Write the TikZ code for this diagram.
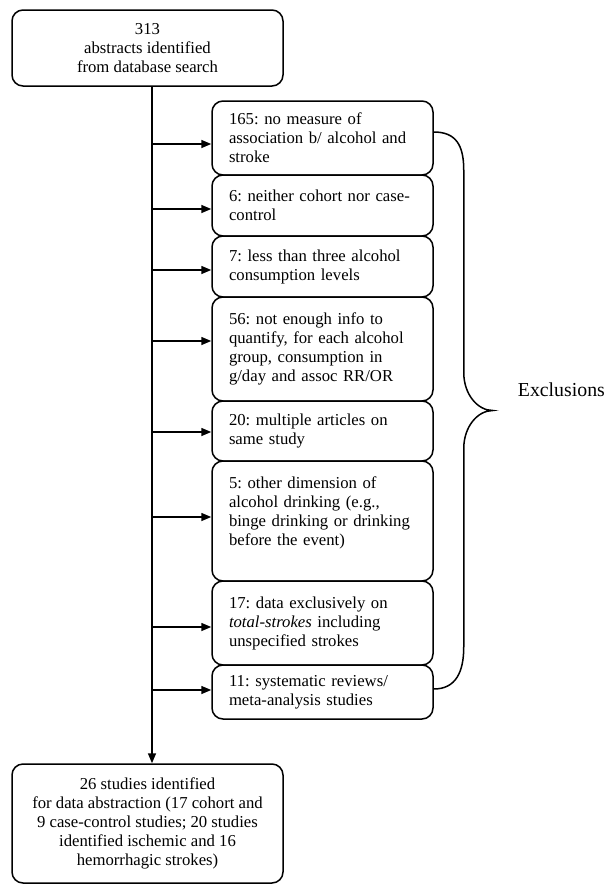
\documentclass[tikz,border=0pt]{standalone}
\usepackage{fontspec}
\setmainfont{Liberation Serif}
\usetikzlibrary{arrows.meta,calc}
\frenchspacing
\tikzset{
  boxfont/.style={font=\fontsize{16.7pt}{19pt}\selectfont\frenchspacing},
  mainbox/.style={draw, line width=1.5pt, rounded corners=11pt, fill=white, boxfont,
    align=center, minimum width=271pt, inner sep=0pt},
  exbox/.style={draw, line width=1.5pt, rounded corners=11pt, fill=white, boxfont,
    text width=187pt, align=left, inner xsep=17pt, inner ysep=0pt, minimum width=221pt},
  arr/.style={line width=1.5pt, -{Triangle[length=10pt,width=8pt]}},
  brace/.style={line width=1.5pt},
}
\begin{document}
\begin{tikzpicture}[x=1pt,y=-1pt]
\useasboundingbox (0,0) rectangle (606,884);

\node[mainbox, minimum height=76pt] (top) at (147.5,48) {313\\abstracts identified\\from database search};
\node[mainbox, minimum height=119pt] (bot) at (147.5,823.5) {26 studies identified\\for data abstraction (17 cohort and\\9 case-control studies; 20 studies\\identified ischemic and 16\\hemorrhagic strokes)};

\node[exbox, minimum height=74pt] (b1) at (322.5,138) {165: no measure of\\association b/ alcohol and\\stroke};
\node[exbox, minimum height=61pt] (b2) at (322.5,205.5) {6: neither cohort nor case-\\control};
\node[exbox, minimum height=61pt] (b3) at (322.5,266.5) {7: less than three alcohol\\consumption levels};
\node[exbox, minimum height=104pt] (b4) at (322.5,349) {56: not enough info to\\quantify, for each alcohol\\group, consumption in\\g/day and assoc RR/OR};
\node[exbox, minimum height=60pt] (b5) at (322.5,431) {20: multiple articles on\\same study};
\node[exbox, minimum height=120pt] (b6) at (322.5,521) {5: other dimension of\\alcohol drinking (e.g.,\\binge drinking or drinking\\before the event)\par\rule{0pt}{16pt}};
\node[exbox, minimum height=84pt] (b7) at (322.5,623) {17: data exclusively on\\\textit{total-strokes} including\\unspecified strokes};
\node[exbox, minimum height=54pt] (b8) at (322.5,692) {11: systematic reviews/\\meta-analysis studies};

% stem
\coordinate (s0) at ([xshift=4.5pt]top.south);
\draw[arr] (s0) -- (s0 |- bot.north);

% side arrows
\coordinate (a1) at ([yshift=-6pt]b1.west);
\coordinate (a2) at ([yshift=-3.5pt]b2.west);
\coordinate (a3) at ([yshift=-3.5pt]b3.west);
\coordinate (a4) at ([yshift=8pt]b4.west);
\coordinate (a5) at ([yshift=-1pt]b5.west);
\coordinate (a6) at ([yshift=4pt]b6.west);
\coordinate (a7) at ([yshift=-4pt]b7.west);
\coordinate (a8) at ([yshift=2pt]b8.west);
\foreach \a in {a1,a2,a3,a4,a5,a6,a7,a8}
  \draw[arr] (\a -| s0) -- (\a);

% brace
\coordinate (bt) at ([yshift=6pt]b1.east);
\coordinate (bb) at ([yshift=3pt]b8.east);
\coordinate (tip) at ($(bt)!0.5!(bb)+(59,0)$);
\draw[brace] (bt) .. controls +(22,0) and +(0,-25) .. ($(bt)+(30,38)$)
  -- ($(tip)+(-29,-38)$) .. controls +(0,22) and +(-15,0) .. (tip)
  .. controls +(-15,0) and +(0,-22) .. ($(tip)+(-29,38)$)
  -- ($(bb)+(30,-42)$) .. controls +(0,25) and +(22,0) .. (bb);

\node[anchor=base west, inner sep=0pt, font=\fontsize{19.8pt}{23pt}\selectfont] (excl) at ($(tip)+(25,-14.5)$) {Exclusions};
\end{tikzpicture}
\end{document}
